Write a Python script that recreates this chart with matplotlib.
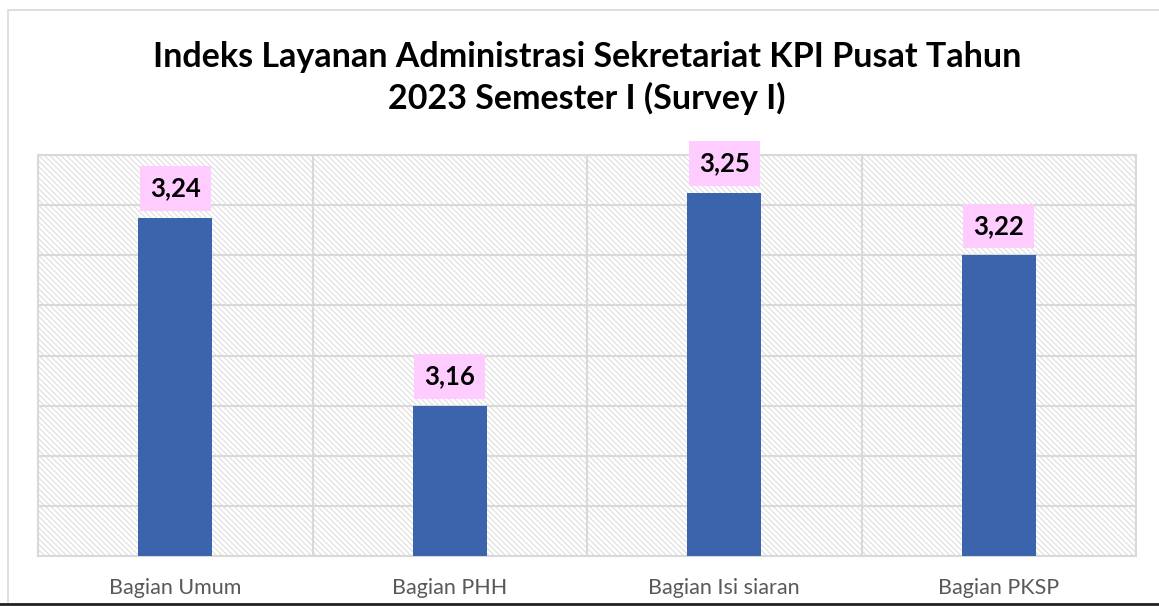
import matplotlib
matplotlib.use('Agg')
import matplotlib.pyplot as plt
import numpy as np
from matplotlib.patches import Rectangle

categories = ['Bagian Umum', 'Bagian PHH', 'Bagian Isi siaran', 'Bagian PKSP']
values = [3.235, 3.16, 3.245, 3.22]
labels = ['3,24', '3,16', '3,25', '3,22']
title = 'Indeks Layanan Administrasi Sekretariat KPI Pusat Tahun\n2023 Semester I (Survey I)'

plt.rcParams['font.family'] = ['Lato', 'DejaVu Sans']
plt.rcParams['hatch.color'] = '#dadada'
plt.rcParams['hatch.linewidth'] = 0.7

fig = plt.figure(figsize=(11.59, 6.06), dpi=100)
ax = fig.add_axes([38 / 1159, 1 - 556 / 606, 1098 / 1159, 401 / 606])

# outer chart frame
fig.patches.append(Rectangle((8 / 1159, 2 / 606), 1.2, 1 - 12 / 606, transform=fig.transFigure,
                             fill=False, edgecolor='#d9d9d9', linewidth=1.2))
fig.add_artist(plt.Line2D([0, 1], [2 / 606, 2 / 606], transform=fig.transFigure,
                          color='#222222', linewidth=2))

# hatched plot background
ax.add_patch(Rectangle((0, 0), 1, 1, transform=ax.transAxes, facecolor='white',
                       edgecolor='#dadada', linewidth=0, hatch='\\' * 6, zorder=0))

x = np.arange(len(categories))
ax.bar(x, values, width=0.27, color='#3c64ad', zorder=3)

ax.set_xlim(-0.5, len(categories) - 0.5)
ax.set_ylim(3.10, 3.26)
ax.set_yticks(np.arange(3.10, 3.261, 0.02))
ax.yaxis.grid(True, color='#d9d9d9', linewidth=1.5, zorder=1)
for b in np.arange(-0.5, len(categories), 1.0):
    ax.axvline(b, color='#d9d9d9', linewidth=1.5, zorder=1)
ax.tick_params(axis='y', left=False, labelleft=False)
ax.tick_params(axis='x', length=0, pad=16, labelsize=15.5, labelcolor='#595959')
ax.set_xticks(x)
ax.set_xticklabels(categories)
for s in ax.spines.values():
    s.set_color('#d9d9d9')
    s.set_linewidth(1.5)

for xi, v, lab in zip(x, values, labels):
    ax.annotate(lab, (xi, v), xytext=(0, 21), textcoords='offset points',
                ha='center', va='center', fontsize=18.5, fontweight='bold', color='black',
                bbox=dict(boxstyle='square,pad=0.4', facecolor='#ffccff', edgecolor='none'),
                zorder=4)

fig.text(587 / 1159, 1 - 78 / 606, title, ha='center', va='center', fontsize=24.5,
         fontweight='bold', color='black', linespacing=1.3)

fig.savefig('out.png', dpi=100)
